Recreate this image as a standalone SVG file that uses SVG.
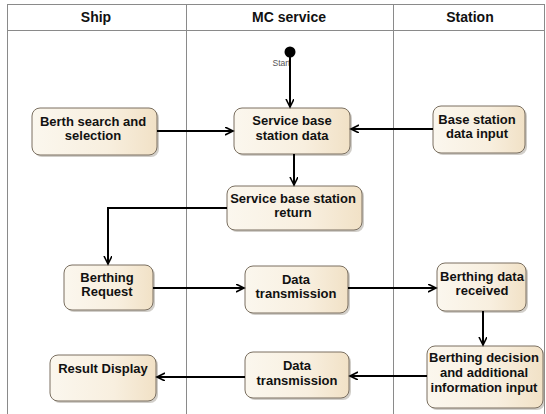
<svg xmlns="http://www.w3.org/2000/svg" width="546" height="414" viewBox="0 0 546 414">
<defs>
<linearGradient id="g" x1="0" y1="0" x2="1" y2="0">
<stop offset="0" stop-color="#fbf7ee"/>
<stop offset="0.6" stop-color="#f8efdf"/>
<stop offset="1" stop-color="#f1e1c6"/>
</linearGradient>
<marker id="a" markerWidth="10" markerHeight="10" refX="8" refY="4" orient="auto" markerUnits="userSpaceOnUse">
<path d="M0,0 L8,4 L0,8" fill="none" stroke="#000" stroke-width="1.6"/>
</marker>
<style>
.lane{fill:none;stroke:#8a8a8a;stroke-width:1}
.hd{font-family:"Liberation Sans",Arial,sans-serif;font-size:14px;font-weight:bold;fill:#111;text-anchor:middle}
.n rect.b{fill:url(#g);stroke:#7a6f60;stroke-width:1}
.n rect.s{fill:#9a9288;opacity:0.45}
.n text{font-family:"Liberation Sans",Arial,sans-serif;font-size:13px;font-weight:bold;fill:#111;text-anchor:middle}
.c{fill:none;stroke:#000;stroke-width:2;marker-end:url(#a)}
</style>
</defs>
<rect width="546" height="414" fill="#fff"/>
<g id="lanes">
<rect class="lane" x="7.5" y="4.5" width="537" height="412"/>
<line class="lane" x1="7.5" y1="30.5" x2="544.5" y2="30.5"/>
<line class="lane" x1="186.5" y1="4.5" x2="186.5" y2="414"/>
<line class="lane" x1="393.5" y1="4.5" x2="393.5" y2="414"/>
<text class="hd" x="96" y="21.5">Ship</text>
<text class="hd" x="289" y="21.5">MC service</text>
<text class="hd" x="470" y="21.5">Station</text>
</g>
<g id="start">
<circle cx="290" cy="52" r="5.5" fill="#000"/>
<text x="272.5" y="66" font-family="'Liberation Sans',Arial,sans-serif" font-size="8.5" fill="#555">Start</text>
</g>
<g id="n-svc" class="n">
<rect class="s" x="236" y="110" width="116" height="46" rx="8"/>
<rect class="b" x="234" y="108" width="116" height="46" rx="8"/>
<text x="292" y="125">Service base</text><text x="292" y="140">station data</text>
</g>
<g id="n-berth" class="n">
<rect class="s" x="34" y="110" width="125" height="47" rx="8"/>
<rect class="b" x="32" y="108" width="125" height="47" rx="8"/>
<text x="93" y="126">Berth search and</text><text x="93" y="140">selection</text>
</g>
<g id="n-base" class="n">
<rect class="s" x="435" y="108" width="92" height="47" rx="8"/>
<rect class="b" x="433" y="106" width="92" height="47" rx="8"/>
<text x="477" y="124">Base station</text><text x="477" y="138">data input</text>
</g>
<g id="n-ret" class="n">
<rect class="s" x="229" y="188" width="135" height="44" rx="8"/>
<rect class="b" x="227" y="186" width="135" height="44" rx="8"/>
<text x="293" y="203">Service base station</text><text x="293" y="217">return</text>
</g>
<g id="n-req" class="n">
<rect class="s" x="66" y="267" width="89" height="45" rx="8"/>
<rect class="b" x="64" y="265" width="89" height="45" rx="8"/>
<text x="107" y="282">Berthing</text><text x="107" y="296">Request</text>
</g>
<g id="n-dt1" class="n">
<rect class="s" x="247" y="268" width="103" height="47" rx="8"/>
<rect class="b" x="245" y="266" width="103" height="47" rx="8"/>
<text x="296" y="284">Data</text><text x="296" y="298">transmission</text>
</g>
<g id="n-bdr" class="n">
<rect class="s" x="439" y="265" width="89" height="48" rx="8"/>
<rect class="b" x="437" y="263" width="89" height="48" rx="8"/>
<text x="482" y="280.5">Berthing data</text><text x="482" y="295">received</text>
</g>
<g id="n-bdec" class="n">
<rect class="s" x="429" y="348" width="116" height="62" rx="8"/>
<rect class="b" x="427" y="346" width="116" height="62" rx="8"/>
<text x="484" y="362">Berthing decision</text><text x="484" y="377">and additional</text><text x="484" y="392">information input</text>
</g>
<g id="n-dt2" class="n">
<rect class="s" x="247" y="354" width="104" height="46" rx="8"/>
<rect class="b" x="245" y="352" width="104" height="46" rx="8"/>
<text x="297" y="369.5">Data</text><text x="297" y="384.5">transmission</text>
</g>
<g id="n-res" class="n">
<rect class="s" x="52" y="357" width="106" height="46" rx="8"/>
<rect class="b" x="50" y="355" width="106" height="46" rx="8"/>
<text x="103" y="373">Result Display</text>
</g>
<g id="connectors">
<path class="c" d="M290,57 L290,107"/>
<path class="c" d="M157,131 L233,131"/>
<path class="c" d="M433,129 L351,129"/>
<path class="c" d="M294,154 L294,185"/>
<path class="c" d="M227,208 L108,208 L108,264"/>
<path class="c" d="M153,288 L244,288"/>
<path class="c" d="M348,288 L436,288"/>
<path class="c" d="M483,311 L483,345"/>
<path class="c" d="M427,376 L350,376"/>
<path class="c" d="M245,377 L157,377"/>
</g>
</svg>
